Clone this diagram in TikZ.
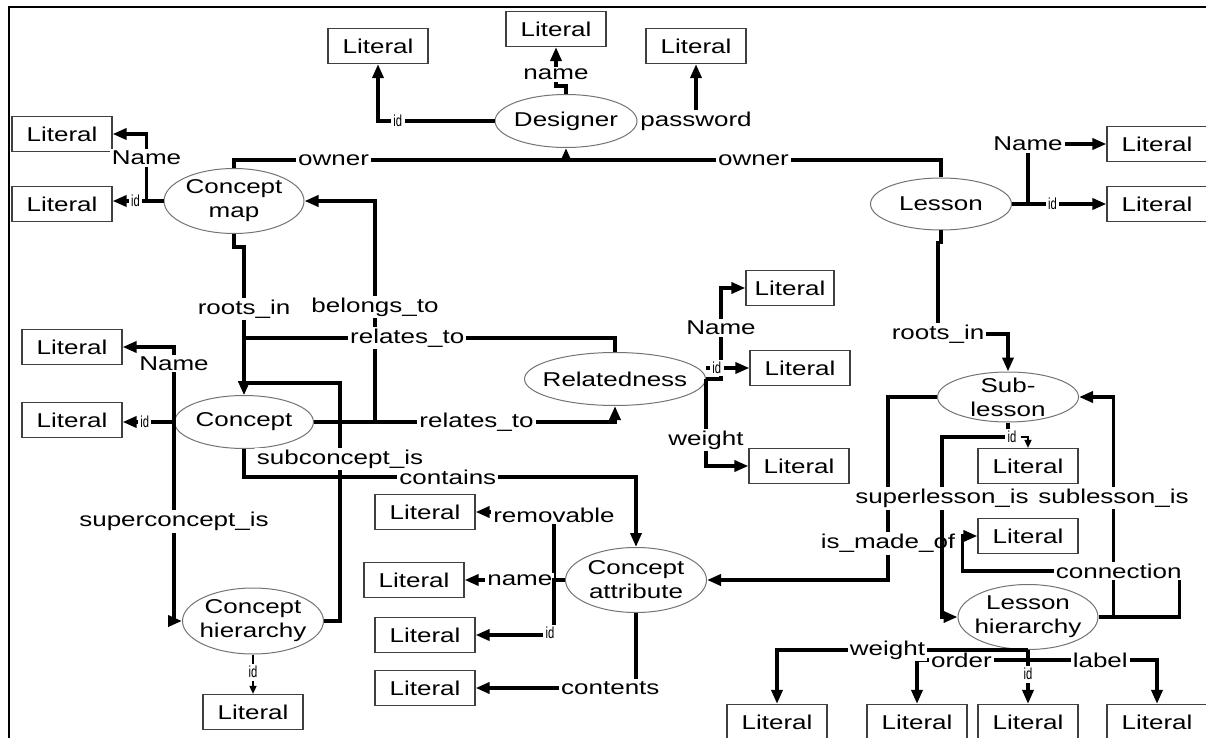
\documentclass[tikz,border=0pt]{standalone}
\usepackage{fontspec}
\setmainfont[FakeStretch=1.3]{Liberation Sans}
\newfontfamily\idfont[FakeStretch=0.7]{Liberation Sans}
\usetikzlibrary{arrows.meta,shapes.geometric}

\begin{document}
\begin{tikzpicture}[x=0.5pt,y=-0.5pt,
  every node/.style={font=\fontsize{10pt}{12pt}\selectfont},
  lit/.style={draw=black!75, line width=0.6pt, minimum width=50pt, minimum height=17.5pt, inner sep=0pt},
  ent/.style={ellipse, draw=black!55, line width=0.5pt, inner sep=0pt},
  etext/.style={label={[align=center, inner sep=0pt]center:#1}},
  lab/.style={fill=white, inner sep=1pt},
  idlab/.style={fill=white, inner sep=1.2pt, font=\idfont\fontsize{8pt}{9pt}\selectfont},
  conn/.style={line width=1.8pt, line join=miter},
  arr/.style={conn, -{Triangle[length=7pt,width=5.5pt]}},
  arrs/.style={line width=0.8pt, -{Triangle[length=4pt,width=3.5pt]}},
]
\useasboundingbox (0,0) rectangle (1206,738);
\clip (0,0) rectangle (1206,738);

% frame
\draw[line width=1.4pt] (9,740) -- (9,7) -- (1210,7);

% ---------- literal boxes ----------
\node[lit] (L1) at (378,46) {Literal};
\node[lit] (L2) at (556,29) {Literal};
\node[lit] (L3) at (696,46) {Literal};
\node[lit] (L4) at (62,134) {Literal};
\node[lit] (L5) at (62,204) {Literal};
\node[lit] (L6) at (1157,144) {Literal};
\node[lit] (L7) at (1157,204) {Literal};
\node[lit, minimum width=44pt] (L8) at (790,288) {Literal};
\node[lit] (L9) at (800,368) {Literal};
\node[lit] (L10) at (799,466) {Literal};
\node[lit] (L11) at (72,347) {Literal};
\node[lit] (L12) at (72,420) {Literal};
\node[lit] (L13) at (253,712) {Literal};
\node[lit] (L14) at (425,512) {Literal};
\node[lit] (L15) at (414,580) {Literal};
\node[lit] (L16) at (425,635) {Literal};
\node[lit] (L17) at (425,688) {Literal};
\node[lit] (L18) at (1028,466) {Literal};
\node[lit] (L19) at (1028,536) {Literal};
\node[lit] (L20) at (777,722) {Literal};
\node[lit] (L21) at (917,722) {Literal};
\node[lit] (L22) at (1028,722) {Literal};
\node[lit] (L23) at (1157,722) {Literal};

% ---------- entities ----------
\node[ent, minimum width=71pt, minimum height=26.5pt, etext={Designer}] (Des) at (566,121) {};
\node[ent, minimum width=70pt, minimum height=32.5pt, etext={Concept\\map}] (CM) at (234,201) {};
\node[ent, minimum width=70.5pt, minimum height=26pt, etext={Lesson}] (Les) at (941,204) {};
\node[ent, minimum width=90.5pt, minimum height=26.5pt, etext={Relatedness}] (Rel) at (615,379) {};
\node[ent, minimum width=69.5pt, minimum height=26.5pt, etext={Concept}] (Con) at (244,422) {};
\node[ent, minimum width=70.5pt, minimum height=25pt, etext={Sub-\\lesson}] (Sub) at (1008,397) {};
\node[ent, minimum width=70.5pt, minimum height=33pt, etext={Concept\\hierarchy}] (CH) at (253,621) {};
\node[ent, minimum width=70.5pt, minimum height=32.5pt, etext={Concept\\attribute}] (CA) at (636,580) {};
\node[ent, minimum width=70pt, minimum height=32.5pt, etext={Lesson\\hierarchy}] (LH) at (1028,617) {};

% ---------- Designer ----------
\draw[arr] (Des.west) -| node[pos=0.415, idlab]{id} (L1.south);
\draw[arr] (Des.north) -- ++(0,-8) -| node[pos=0.65, lab]{name} (L2.south);
\draw[arr] (Des.east) -| node[pos=0.5, lab]{password} (L3.south);

\coordinate (own) at (566,160);
\draw[conn] (CM.north) |- node[pos=0.65, lab]{owner} (own);
\draw[conn] (Les.north) |- node[pos=0.75, lab]{owner} (own);
\draw[arr] (own) -- (Des.south);

% ---------- Concept map ----------
\draw[arr] (CM.west) -- ++(-17,0) |- node[pos=0.32, lab]{Name} (L4.east);
\draw[arr] (CM.west) -- node[pos=0.55, idlab]{id} (CM.west -| L5.east);
\draw[arr] (CM.south) -- ++(0,13) -| node[pos=0.71, lab]{roots\_in} (Con.north);

\coordinate (bt) at (375,422);
\draw[arr] (bt) |- node[pos=0.26, lab]{belongs\_to} (CM.east);

% ---------- Relatedness ----------
\coordinate (rt) at (244,338);
\draw[conn] (Rel.north) |- node[pos=0.78, lab]{relates\_to} (rt);
\draw[arr] (Con.east) -| node[pos=0.27, lab]{relates\_to} (Rel.south);

\draw[arr] (Rel.east) -- ++(15,0) |- node[pos=0.28, lab]{Name} (L8.west);
\draw[arr] (Rel.east |- L9.west) -- node[pos=0.25, idlab]{id} (L9.west);
\draw[arr] (Rel.east) |- node[pos=0.35, lab]{weight} (L10.west);

% ---------- Concept ----------
\draw[arr] (Con.west) |- node[pos=0.39, lab]{Name} (L11.east);
\draw[arr] (Con.west) -- node[pos=0.57, idlab]{id} (Con.west -| L12.east);
\draw[arr] (Con.west) |- node[pos=0.25, lab]{superconcept\_is} (CH.west);
\draw[arr] (CH.east) -| node[pos=0.84, lab]{subconcept\_is} (340,383) -| (Con.north);
\draw[arr] (Con.south) -- ++(0,28) -| node[pos=0.26, lab]{contains} (CA.north);
\draw[arrs] (CH.south) -- node[pos=0.45, idlab]{id} (L13.north);

% ---------- Concept attribute ----------
\draw[arr] (CA.west) -- ++(-11,0) |- node[pos=0.5, lab, yshift=-1.5pt]{removable} (L14.east);
\draw[arr] (CA.west) -- node[pos=0.45, lab]{name} (L15.east);
\draw[arr] (CA.west) -- ++(-11,0) |- node[pos=0.5, idlab, xshift=-2pt, yshift=1pt]{id} (L16.east);
\draw[arr] (CA.south) |- node[pos=0.58, lab]{contents} (L17.east);

% ---------- Lesson ----------
\draw[arr] (Les.east) -- ++(16,0) |- node[pos=0.5, lab]{Name} (L6.west);
\draw[arr] (Les.east) -- node[pos=0.43, idlab]{id} (L7.west);
\coordinate (ri) at (938,334);
\draw[arr] (Les.south) -- ++(0,12) -| (ri) node[lab]{roots\_in} -| (Sub.north);

% ---------- Sub-lesson ----------
\draw[arr] (Sub.west) -| node[pos=0.9, lab]{is\_made\_of} (888,580) -- (CA.east);
\draw[arr] (Sub.south) |- node[pos=0.5, idlab, xshift=2pt] (sid) {id} (942,437)
  |- node[pos=0.17, lab]{superlesson\_is} (LH.west);
\draw[arrs] (sid.east) -| (L18.north);
\draw[arr] (LH.east) -- ++(15,0) |- node[pos=0.27, lab]{sublesson\_is} (Sub.east);
\draw[arr] (LH.east) -- ++(81,0) |- node[pos=0.64, lab]{connection} ++(-217,-46) |- (L19.west);

% ---------- Lesson hierarchy ----------
\draw[arr] (LH.south) -- ++(0,10) -| node[pos=0.3, lab]{order} (L21.north);
\draw[arr] (LH.south) -- ++(0,10) -| node[pos=0.28, lab]{label} (L23.north);
\draw[arr] (LH.south) -| node[pos=0.28, lab]{weight} (L20.north);
\draw[arr] (LH.south) -- node[pos=0.45, idlab]{id} (L22.north);

\end{tikzpicture}
\end{document}
